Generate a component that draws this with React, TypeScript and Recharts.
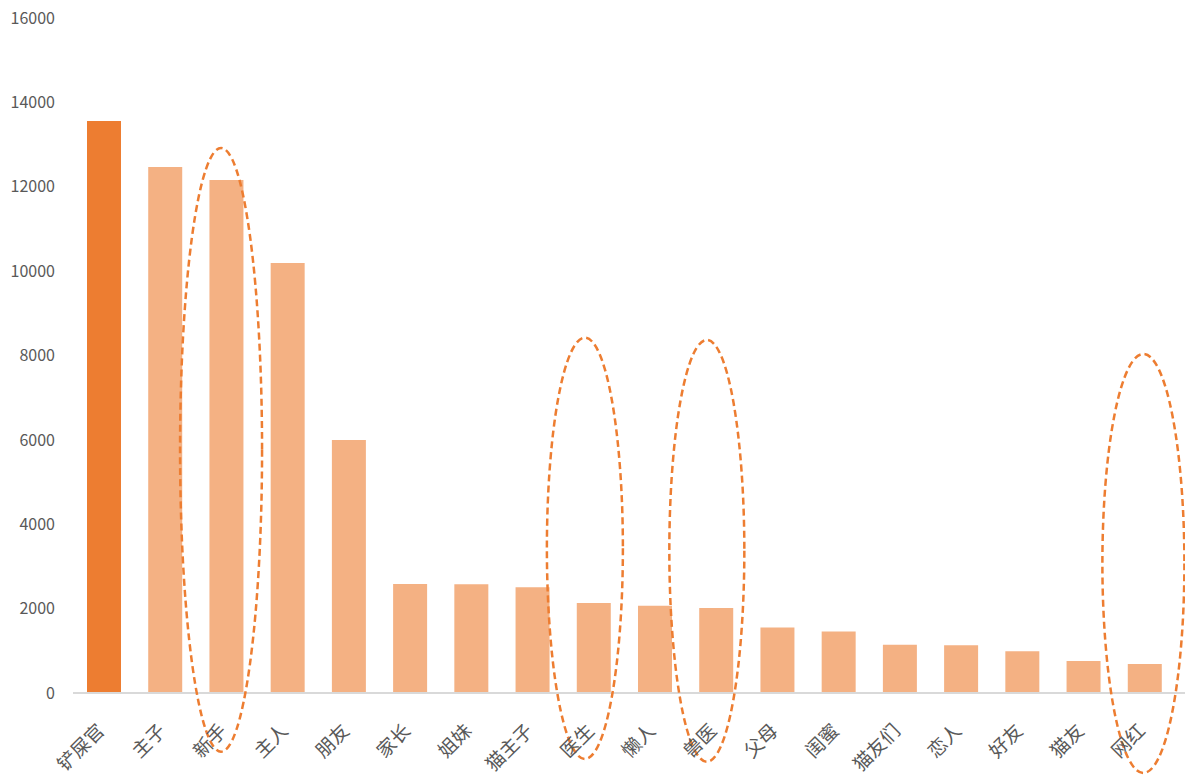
import React from "react";
import { BarChart, Bar, XAxis, YAxis, Cell, ReferenceDot } from "recharts";

const categories = ["铲屎官", "主子", "新手", "主人", "朋友", "家长", "姐妹", "猫主子", "医生", "懒人", "兽医", "父母", "闺蜜", "猫友们", "恋人", "好友", "猫友", "网红"];
const counts = [13560, 12470, 12160, 10190, 6000, 2585, 2580, 2505, 2135, 2070, 2015, 1550, 1455, 1145, 1130, 990, 760, 690];
const yTicks = [0, 2000, 4000, 6000, 8000, 10000, 12000, 14000, 16000];
// highlighted categories: ellipse centre value and half vertical span (data units)
const highlightNames = ["新手", "医生", "兽医", "网红"];
const highlightCenters = [5764, 3429, 3370, 3070];
const highlightHalfSpans = [7155, 4993, 4998, 4966];

const W = 1185;
const H = 775;
const M_TOP = 18;
const M_BOTTOM = 82;
const PLOT_H = H - M_TOP - M_BOTTOM;
const Y_MAX = 16000;
const FONT = '"Noto Sans CJK SC", "Noto Sans", sans-serif';
const ORANGE = "#ED7D31";
const LIGHT = "#F4B183";
const TEXT = "#595959";

const data = categories.map((name, i) => ({ name, value: counts[i] }));

const ellipseRx = [41, 38, 37.5, 41];
const ellipseDx = [-5, -8.5, -9, -1];

const CatTick = (props: any) => {
  const { x, y, payload } = props;
  const ax = x + 2;
  const ay = y + 39;
  return (
    <g>
      <text
        x={ax}
        y={ay}
        textAnchor="end"
        fill={TEXT}
        fontSize={19}
        fontFamily={FONT}
        transform={`rotate(-45 ${ax} ${ay})`}
      >
        {payload.value}
      </text>
    </g>
  );
};

const makeEllipse = (i: number) => (props: any) => {
  const { cx, cy } = props;
  const ry = (highlightHalfSpans[i] * PLOT_H) / Y_MAX;
  return (
    <ellipse
      cx={cx + ellipseDx[i]}
      cy={cy}
      rx={ellipseRx[i]}
      ry={ry}
      fill="none"
      stroke={ORANGE}
      strokeWidth={2.5}
      strokeDasharray="7 4"
    />
  );
};

export default function App() {
  return (
    <div style={{ position: "absolute", left: 0, top: 0, width: W, height: H, background: "#fff" }}>
      <BarChart
        width={W}
        height={H}
        data={data}
        margin={{ top: M_TOP, right: 0, bottom: 0, left: 13 }}
        barSize={34}
      >
        <XAxis
          dataKey="name"
          height={M_BOTTOM}
          interval={0}
          tickLine={false}
          tickSize={0}
          tickMargin={0}
          axisLine={{ stroke: "#d9d9d9", strokeWidth: 2 }}
          padding={{ left: 0, right: 10 }}
          tick={<CatTick />}
        />
        <YAxis
          width={60}
          domain={[0, Y_MAX]}
          ticks={yTicks}
          interval={0}
          axisLine={false}
          tickLine={false}
          tickSize={0}
          tickMargin={18}
          tick={{ fill: TEXT, fontSize: 16, fontFamily: FONT }}
        />
        <Bar dataKey="value" isAnimationActive={false}>
          {data.map((d, i) => (
            <Cell key={d.name} fill={i === 0 ? ORANGE : LIGHT} />
          ))}
        </Bar>
        {highlightNames.map((n, i) => (
          <ReferenceDot
            key={n}
            x={n}
            y={highlightCenters[i]}
            ifOverflow="visible"
            shape={makeEllipse(i)}
          />
        ))}
      </BarChart>
    </div>
  );
}
